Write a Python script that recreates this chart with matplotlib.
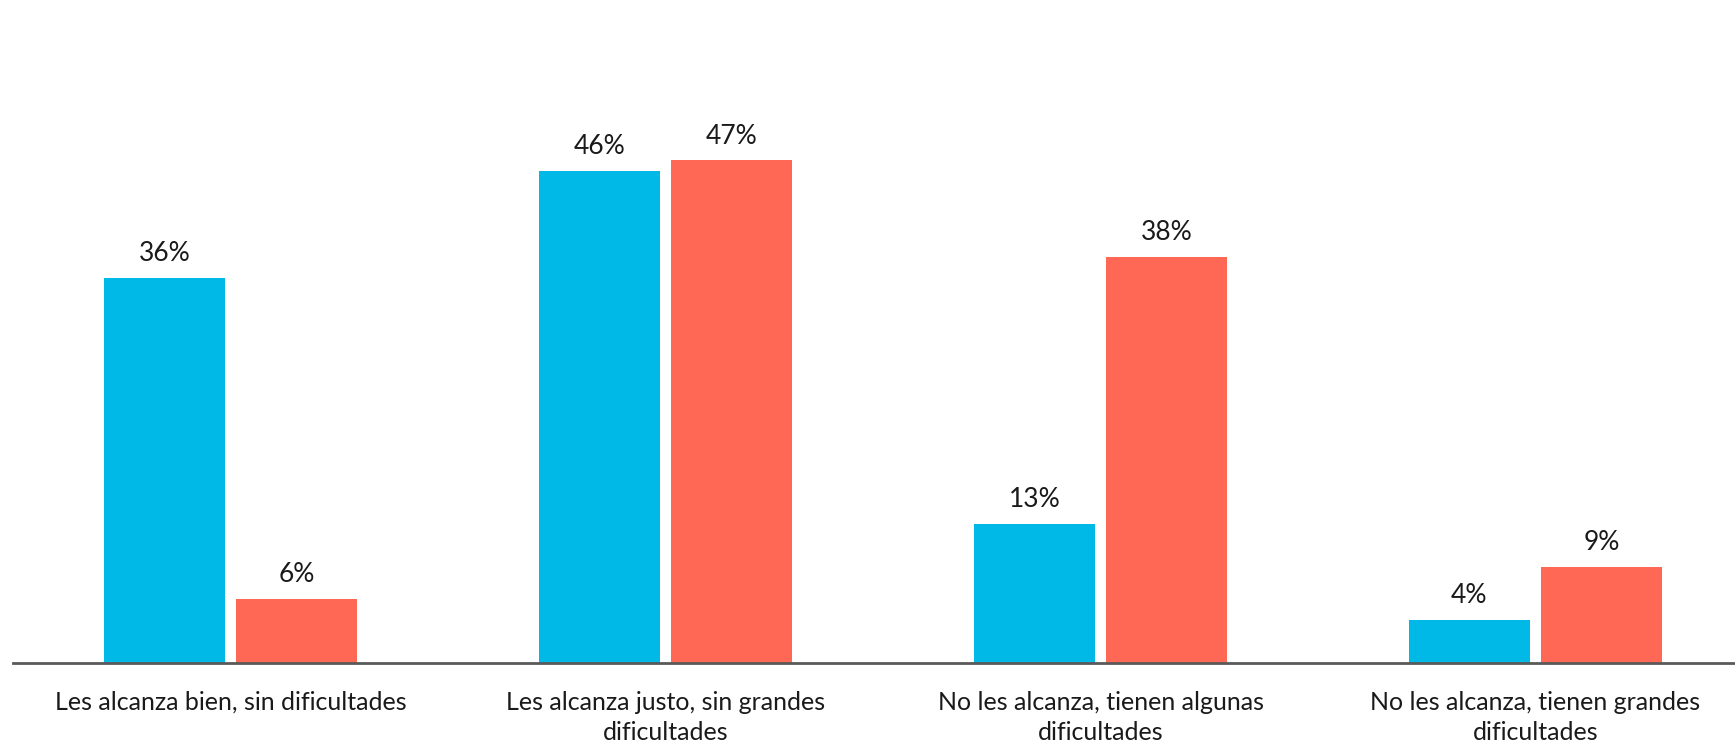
import matplotlib.pyplot as plt
import numpy as np

categories = ["Les alcanza bien, sin dificultades",
              "Les alcanza justo, sin grandes\ndificultades",
              "No les alcanza, tienen algunas\ndificultades",
              "No les alcanza, tienen grandes\ndificultades"]
serie_azul = [36, 46, 13, 4]
serie_roja = [6, 47, 38, 9]

azul = "#00B9E7"
rojo = "#FF6855"

plt.rcParams['font.family'] = ['Lato', 'DejaVu Sans']

fig = plt.figure(figsize=(17.35, 7.41), dpi=100)
ax = fig.add_axes([13 / 1735, 78 / 741, 1740 / 1735, 663 / 741])

x = np.arange(len(categories))
w = 0.278
off = 0.152
b1 = ax.bar(x - off, serie_azul, w, color=azul)
b2 = ax.bar(x + off, serie_roja, w, color=rojo)

for bars, vals in [(b1, serie_azul), (b2, serie_roja)]:
    for b, v in zip(bars, vals):
        ax.text(b.get_x() + b.get_width() / 2, v + 1.1, f"{v}%",
                ha="center", va="bottom", fontsize=19, color="#1a1a1a")

ax.set_xlim(-0.5, 3.5)
ax.set_ylim(0, 62)
ax.set_xticks(x)
ax.set_xticklabels(categories, fontsize=18, color="#1a1a1a", linespacing=1.4)
ax.tick_params(axis="x", length=0, pad=20)
ax.set_yticks([])
for s in ["top", "right", "left"]:
    ax.spines[s].set_visible(False)
ax.spines["bottom"].set_color("#595959")
ax.spines["bottom"].set_linewidth(2)

fig.savefig("out.png", dpi=100)
